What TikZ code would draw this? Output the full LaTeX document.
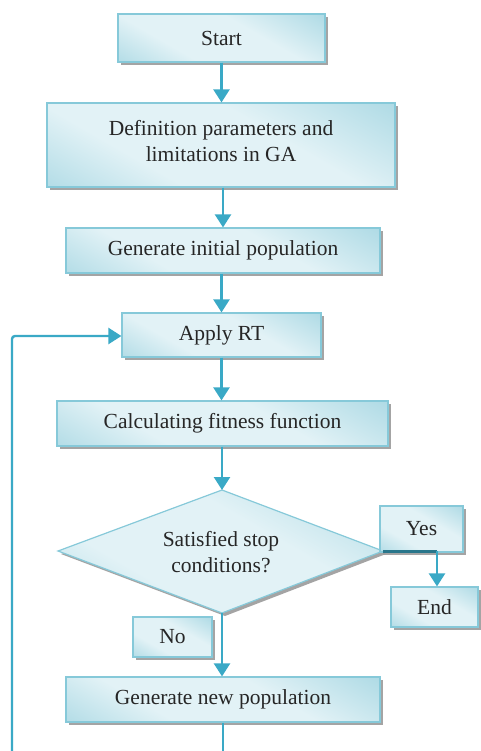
\documentclass[tikz,border=0pt]{standalone}
\usepackage{fontspec}
\setmainfont{Liberation Serif}
\usetikzlibrary{arrows.meta,shadows}
\definecolor{bdark}{HTML}{8DCBDA}
\definecolor{blight}{HTML}{E2F2F6}
\definecolor{bline}{HTML}{86C9D9}
\definecolor{arr}{HTML}{3AA9C6}
\definecolor{shd}{HTML}{9A9A9A}
\pgfdeclarehorizontalshading{boxshade}{100bp}{color(0bp)=(bdark); color(35bp)=(blight); color(60bp)=(blight); color(100bp)=(bdark)}
\tikzset{
  fbox/.style={draw=bline, line width=1.2pt, shading=boxshade, shading angle=60,
    drop shadow={shadow xshift=3pt, shadow yshift=-3pt, fill=shd, opacity=0.9},
    font=\fontsize{21.5}{26}\selectfont, align=center, inner sep=0pt, text=black!85},
  conn/.style={draw=arr, line width=2.4pt, -{Triangle[length=13pt,width=16pt]}},
  plain/.style={draw=arr, line width=2.4pt}
}
\begin{document}
\begin{tikzpicture}[x=1pt,y=-1pt]
\useasboundingbox (0,0) rectangle (481,751);
\node[fbox, minimum width=207pt, minimum height=48pt] (start) at (221.5,38) {Start};
\node[fbox, minimum width=348pt, minimum height=84pt] (def) at (221,145) {};
\node[font=\fontsize{21.5}{26}\selectfont, align=center, text=black!85] (deftext) at (221,141) {Definition parameters and\\limitations in GA};
\node[fbox, minimum width=314pt, minimum height=45pt] (gen) at (223,250.5) {Generate initial population};
\node[fbox, minimum width=199pt, minimum height=44pt] (rt) at (221.5,335) {Apply RT};
\node[fbox, minimum width=331pt, minimum height=45pt] (fit) at (222.5,423.5) {Calculating fitness function};
\path[fbox] (222,490) coordinate (dtop) -- (383,551) coordinate (dright) -- (222,613) coordinate (dbot) -- (58,551) coordinate (dleft) -- cycle;
\node[font=\fontsize{21.5}{26}\selectfont, align=center, text=black!85] (dtext) at (221,552) {Satisfied stop\\conditions?};
\node[fbox, minimum width=83pt, minimum height=46pt] (yes) at (421.5,529) {Yes};
\node[fbox, minimum width=87pt, minimum height=40pt] (end) at (434.5,607) {End};
\node[fbox, minimum width=79pt, minimum height=40pt] (no) at (172.5,637) {No};
\node[fbox, minimum width=314pt, minimum height=45pt] (newp) at (223,699.5) {Generate new population};
\coordinate (bot) at (223,751);
\coordinate (loopb) at (12,751);
\coordinate (loopt) at (12,336);
\coordinate (ycorner) at (437,551);
\draw[conn] (start) -- (start |- def.north);
\draw[conn] (def.south -| gen.north) -- (gen);
\draw[conn] (gen.south -| rt.north) -- (rt);
\draw[conn] (rt) -- (rt |- fit.north);
\draw[conn] (fit.south -| dtop) -- (dtop);
\draw[conn] (dbot) -- (dbot |- newp.north);
\draw[plain] (newp.south -| bot) -- (bot);
\draw[conn, rounded corners=3pt] (loopb) -- (loopt) -- (rt.west |- loopt);
\draw[line width=3pt, draw=arr!70!black] (dright) -- (ycorner);
\draw[conn, rounded corners=2pt] (ycorner) -- (ycorner |- end.north);
\end{tikzpicture}
\end{document}
